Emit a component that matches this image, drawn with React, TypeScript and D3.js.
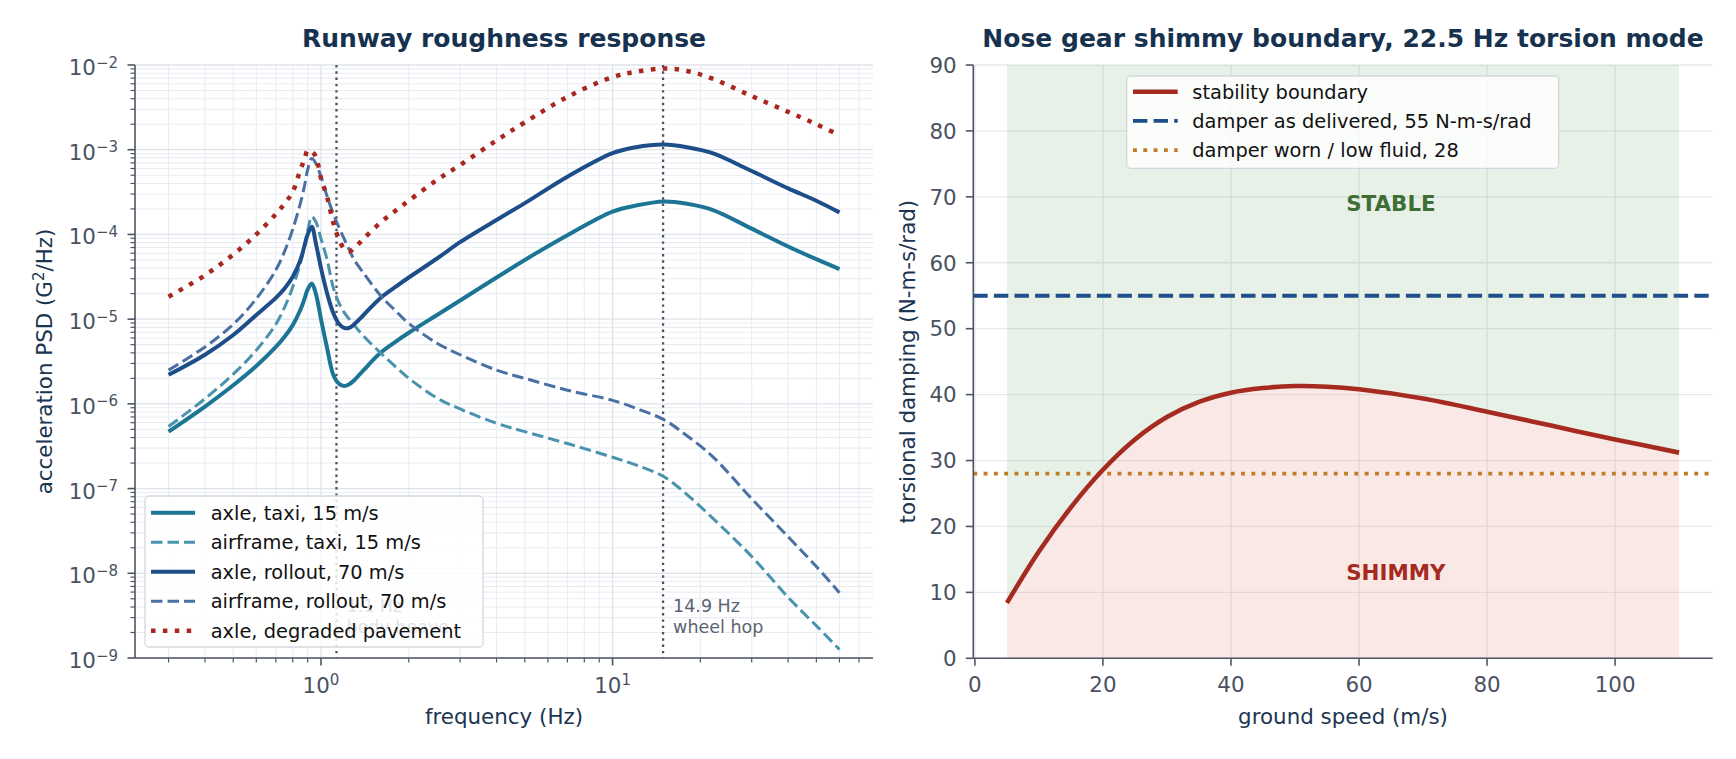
import React, { useEffect } from "react";
import * as d3 from "d3";

// ---- left panel: runway roughness PSD ----
const freqHz = [
  0.3, 0.4, 0.5, 0.6, 0.7, 0.75, 0.8, 0.85, 0.88, 0.9, 0.93, 0.96, 1.0, 1.05, 1.1, 1.15, 1.2, 1.25,
  1.3, 1.4, 1.6, 1.8, 2, 2.5, 3, 4, 5, 7, 10, 12, 15, 18, 22, 30, 40, 50, 60,
];
const axleTaxi = [
  4.7e-7, 9.3e-7, 1.66e-6, 2.8e-6, 4.7e-6, 6.2e-6, 8.5e-6, 1.29e-5, 1.78e-5, 2.24e-5, 2.63e-5,
  2.0e-5, 1.0e-5, 4.5e-6, 2.24e-6, 1.74e-6, 1.62e-6, 1.7e-6, 1.9e-6, 2.5e-6, 4.0e-6, 5.4e-6,
  6.9e-6, 1.12e-5, 1.66e-5, 3.1e-5, 5.0e-5, 9.8e-5, 1.86e-4, 2.19e-4, 2.45e-4, 2.3e-4, 1.95e-4,
  1.17e-4, 7.2e-5, 5.1e-5, 3.9e-5,
];
const airframeTaxi = [
  5.4e-7, 1.15e-6, 2.24e-6, 4.3e-6, 8.7e-6, 1.38e-5, 2.4e-5, 4.6e-5, 7.6e-5, 1.1e-4, 1.62e-4,
  1.41e-4, 8.9e-5, 5.0e-5, 2.4e-5, 1.58e-5, 1.2e-5, 1.0e-5, 8.5e-6, 6.3e-6, 4.0e-6, 2.75e-6,
  2.0e-6, 1.17e-6, 8.7e-7, 5.9e-7, 4.7e-7, 3.4e-7, 2.34e-7, 1.9e-7, 1.38e-7, 8.5e-8, 4.5e-8,
  1.58e-8, 5.2e-9, 2.4e-9, 1.26e-9,
];
const axleRollout = [
  2.2e-6, 3.8e-6, 6.5e-6, 1.12e-5, 1.78e-5, 2.3e-5, 3.16e-5, 5.0e-5, 7.6e-5, 1.0e-4, 1.23e-4,
  7.9e-5, 4.0e-5, 2.0e-5, 1.2e-5, 8.9e-6, 7.9e-6, 7.9e-6, 8.7e-6, 1.12e-5, 1.78e-5, 2.4e-5,
  3.1e-5, 5.2e-5, 8.1e-5, 1.48e-4, 2.34e-4, 4.8e-4, 9.1e-4, 1.07e-3, 1.15e-3, 1.07e-3, 9.1e-4,
  5.6e-4, 3.5e-4, 2.5e-4, 1.82e-4,
];
const airframeRollout = [
  2.5e-6, 4.7e-6, 8.7e-6, 1.74e-5, 3.8e-5, 6.3e-5, 1.15e-4, 2.34e-4, 3.9e-4, 5.8e-4, 7.9e-4,
  6.9e-4, 4.8e-4, 2.8e-4, 1.78e-4, 1.23e-4, 8.9e-5, 6.6e-5, 5.0e-5, 3.5e-5, 1.9e-5, 1.26e-5,
  8.9e-6, 5.2e-6, 3.8e-6, 2.5e-6, 2.0e-6, 1.45e-6, 1.1e-6, 8.9e-7, 6.5e-7, 4.2e-7, 2.4e-7,
  7.6e-8, 2.7e-8, 1.2e-8, 5.9e-9,
];
const axleDegraded = [
  1.84e-5, 3.3e-5, 5.8e-5, 1.0e-4, 1.74e-4, 2.3e-4, 3.2e-4, 5.8e-4, 7.9e-4, 9.8e-4, 9.5e-4,
  8.3e-4, 4.6e-4, 2.75e-4, 1.41e-4, 8.9e-5, 6.8e-5, 6.3e-5, 6.9e-5, 8.9e-5, 1.38e-4, 1.9e-4,
  2.5e-4, 4.4e-4, 6.6e-4, 1.29e-3, 2.1e-3, 4.2e-3, 7.2e-3, 8.3e-3, 9.1e-3, 8.5e-3, 6.9e-3,
  4.3e-3, 2.8e-3, 2.0e-3, 1.48e-3,
];
const bodyModeHz = 1.13;
const wheelHopHz = 14.9;
const psdExponents = [-9, -8, -7, -6, -5, -4, -3, -2];

// ---- right panel: shimmy boundary ----
const groundSpeed = [5, 10, 15, 20, 25, 30, 35, 40, 45, 50, 55, 60, 70, 80, 90, 100, 110];
const boundaryDamping = [
  8.4, 16.2, 22.9, 28.6, 33.2, 36.6, 38.9, 40.3, 41.0, 41.3, 41.2, 40.8, 39.4, 37.4, 35.3, 33.2,
  31.2,
];
const damperDelivered = 55;
const damperWorn = 28;
const dampingTicks = [0, 10, 20, 30, 40, 50, 60, 70, 80, 90];
const speedTicks = [0, 20, 40, 60, 80, 100];

const FONT = "DejaVu Sans";
const TICK = "#4a5261";
const SPINE = "#4f5663";
const TITLE = "#16324f";
const LABEL = "#1b3551";
const GRID_MAJOR = "#dfe4ea";
const GRID_MINOR = "#e9edf2";

const psdSeries = [
  { label: "axle, taxi, 15 m/s", values: axleTaxi, color: "#1c7594", width: 4, dash: "none" },
  { label: "airframe, taxi, 15 m/s", values: airframeTaxi, color: "#4a93ae", width: 3, dash: "11.5,5" },
  { label: "axle, rollout, 70 m/s", values: axleRollout, color: "#1d4e89", width: 4, dash: "none" },
  { label: "airframe, rollout, 70 m/s", values: airframeRollout, color: "#4a70a3", width: 3, dash: "11.5,5" },
  { label: "axle, degraded pavement", values: axleDegraded, color: "#a9271e", width: 4.5, dash: "4.5,7.4" },
];

const Sup: React.FC<{ base: string; exp: string; dy: number }> = ({ base, exp, dy }) => (
  <>
    <tspan>{base}</tspan>
    <tspan fontSize={15} dy={dy}>
      {exp}
    </tspan>
  </>
);

const LeftPanel: React.FC = () => {
  const x0 = 135, x1 = 873, y0 = 65, y1 = 658;
  const lo = Math.log10(d3.min(freqHz)!);
  const hi = Math.log10(d3.max(freqHz)!);
  const pad = 0.05 * (hi - lo);
  const x = d3.scaleLog().domain([10 ** (lo - pad), 10 ** (hi + pad)]).range([x0, x1]);
  const y = d3.scaleLog().domain([1e-9, 1e-2]).range([y1, y0]);
  const [dLo, dHi] = x.domain();

  const xMajor: number[] = [];
  const xMinor: number[] = [];
  for (let e = -1; e <= 1; e++) {
    for (let k = 1; k <= 9; k++) {
      const v = k * 10 ** e;
      if (v < dLo || v > dHi) continue;
      (k === 1 ? xMajor : xMinor).push(v);
    }
  }
  const yMinor: number[] = [];
  for (let e = -9; e < -2; e++) for (let k = 2; k <= 9; k++) yMinor.push(k * 10 ** e);

  const line = d3
    .line<number>()
    .x((_, i) => x(freqHz[i]))
    .y((d) => y(d))
    .curve(d3.curveCatmullRom.alpha(0.5));

  const modeLines = [
    { f: bodyModeHz, lines: ["1.1 Hz", "body heave"] },
    { f: wheelHopHz, lines: ["14.9 Hz", "wheel hop"] },
  ];

  const legX = 145, legY = 496, legW = 338, legH = 151, rowH = 29.5;

  return (
    <g>
      {/* grid */}
      {yMinor.map((v) => (
        <line key={`ym${v}`} x1={x0} x2={x1} y1={y(v)} y2={y(v)} stroke={GRID_MINOR} strokeWidth={1.1} />
      ))}
      {xMinor.map((v) => (
        <line key={`xm${v}`} x1={x(v)} x2={x(v)} y1={y0} y2={y1} stroke={GRID_MINOR} strokeWidth={1.1} />
      ))}
      {psdExponents.map((e) => (
        <line key={`yg${e}`} x1={x0} x2={x1} y1={y(10 ** e)} y2={y(10 ** e)} stroke={GRID_MAJOR} strokeWidth={1.3} />
      ))}
      {xMajor.map((v) => (
        <line key={`xg${v}`} x1={x(v)} x2={x(v)} y1={y0} y2={y1} stroke={GRID_MAJOR} strokeWidth={1.3} />
      ))}

      {/* mode markers */}
      {modeLines.map((m) => (
        <g key={m.f}>
          <line
            x1={x(m.f)}
            x2={x(m.f)}
            y1={y0}
            y2={y1}
            stroke="#4b5260"
            strokeWidth={2.3}
            strokeDasharray="2.4,3.9"
          />
          {m.lines.map((t, i) => (
            <text key={t} x={x(m.f) + 10} y={y(2e-9) + 1 - (1 - i) * 21} fontSize={17.5} fill="#5b6472">
              {t}
            </text>
          ))}
        </g>
      ))}

      {/* curves */}
      {psdSeries.map((s) => (
        <path
          key={s.label}
          d={line(s.values)!}
          fill="none"
          stroke={s.color}
          strokeWidth={s.width}
          strokeDasharray={s.dash}
          strokeLinejoin="round"
        />
      ))}

      {/* axes */}
      <line x1={x0} x2={x0} y1={y0} y2={y1} stroke={SPINE} strokeWidth={1.6} />
      <line x1={x0} x2={x1} y1={y1} y2={y1} stroke={SPINE} strokeWidth={1.6} />
      {psdExponents.map((e) => (
        <g key={`yt${e}`}>
          <line x1={x0 - 7.5} x2={x0} y1={y(10 ** e)} y2={y(10 ** e)} stroke={SPINE} strokeWidth={1.6} />
          <text x={x0 - 17} y={y(10 ** e) + 10} fontSize={21.4} fill={TICK} textAnchor="end">
            <Sup base="10" exp={`\u2212${-e}`} dy={-7.5} />
          </text>
        </g>
      ))}
      {yMinor.map((v) => (
        <line key={`ytm${v}`} x1={x0 - 4.5} x2={x0} y1={y(v)} y2={y(v)} stroke={SPINE} strokeWidth={1.2} />
      ))}
      {xMajor.map((v) => (
        <g key={`xt${v}`}>
          <line x1={x(v)} x2={x(v)} y1={y1} y2={y1 + 7.5} stroke={SPINE} strokeWidth={1.6} />
          <text x={x(v)} y={693} fontSize={21.4} fill={TICK} textAnchor="middle">
            <Sup base="10" exp={`${Math.round(Math.log10(v))}`} dy={-8} />
          </text>
        </g>
      ))}
      {xMinor.map((v) => (
        <line key={`xtm${v}`} x1={x(v)} x2={x(v)} y1={y1} y2={y1 + 4.5} stroke={SPINE} strokeWidth={1.2} />
      ))}

      {/* labels */}
      <text x={(x0 + x1) / 2} y={46.5} fontSize={25} fontWeight="bold" fill={TITLE} textAnchor="middle">
        Runway roughness response
      </text>
      <text x={(x0 + x1) / 2} y={724} fontSize={21.4} fill={LABEL} textAnchor="middle">
        frequency (Hz)
      </text>
      <text
        transform={`translate(52,${(y0 + y1) / 2}) rotate(-90)`}
        fontSize={21.4}
        fill={LABEL}
        textAnchor="middle"
      >
        acceleration PSD (G
        <tspan fontSize={15} dy={-8}>
          2
        </tspan>
        <tspan dy={8}>/Hz)</tspan>
      </text>

      {/* legend */}
      <rect
        x={legX}
        y={legY}
        width={legW}
        height={legH}
        rx={4}
        fill="white"
        fillOpacity={0.82}
        stroke="#d3d8de"
        strokeWidth={1.3}
      />
      {psdSeries.map((s, i) => {
        const cy = legY + 16.7 + i * rowH;
        return (
          <g key={`lg${s.label}`}>
            <line
              x1={151}
              x2={195}
              y1={cy}
              y2={cy}
              stroke={s.color}
              strokeWidth={s.width}
              strokeDasharray={s.dash}
            />
            <text x={210.7} y={cy + 7} fontSize={19.4} fill="#111">
              {s.label}
            </text>
          </g>
        );
      })}
    </g>
  );
};

const RightPanel: React.FC = () => {
  const x0 = 973.3, x1 = 1712.7, y0 = 65, y1 = 658.3;
  const vLo = d3.min(groundSpeed)!;
  const vHi = d3.max(groundSpeed)!;
  const padV = 0.05 * (vHi - vLo);
  const x = d3.scaleLinear().domain([vLo - padV, vHi + padV]).range([x0, x1]);
  const y = d3.scaleLinear().domain([0, 90]).range([y1, y0]);

  const curve = d3.curveCatmullRom.alpha(0.5);
  const line = d3.line<number>().x((_, i) => x(groundSpeed[i])).y((d) => y(d)).curve(curve);
  const stableArea = d3
    .area<number>()
    .x((_, i) => x(groundSpeed[i]))
    .y0(y(90))
    .y1((d) => y(d))
    .curve(curve);
  const shimmyArea = d3
    .area<number>()
    .x((_, i) => x(groundSpeed[i]))
    .y0(y(0))
    .y1((d) => y(d))
    .curve(curve);

  const legend = [
    { label: "stability boundary", color: "#a52a20", width: 4.6, dash: "none" },
    { label: "damper as delivered, 55 N-m-s/rad", color: "#1e4f8a", width: 3.8, dash: "14.4,6.2" },
    { label: "damper worn / low fluid, 28", color: "#c17d24", width: 3.8, dash: "3.9,6.4" },
  ];

  return (
    <g>
      {dampingTicks.map((t) => (
        <line key={`g${t}`} x1={x0} x2={x1} y1={y(t)} y2={y(t)} stroke="#e6eaee" strokeWidth={1.3} />
      ))}
      {speedTicks.map((t) => (
        <line key={`gv${t}`} x1={x(t)} x2={x(t)} y1={y0} y2={y1} stroke="#e6eaee" strokeWidth={1.3} />
      ))}

      <path d={stableArea(boundaryDamping)!} fill="#3d8b3d" fillOpacity={0.12} />
      <path d={shimmyArea(boundaryDamping)!} fill="#d9443a" fillOpacity={0.12} />

      <line
        x1={x0}
        x2={x1}
        y1={y(damperDelivered)}
        y2={y(damperDelivered)}
        stroke={legend[1].color}
        strokeWidth={legend[1].width}
        strokeDasharray={legend[1].dash}
      />
      <line
        x1={x0}
        x2={x1}
        y1={y(damperWorn)}
        y2={y(damperWorn)}
        stroke={legend[2].color}
        strokeWidth={legend[2].width}
        strokeDasharray={legend[2].dash}
      />
      <path d={line(boundaryDamping)!} fill="none" stroke={legend[0].color} strokeWidth={legend[0].width} />

      <text x={x(58)} y={y(69)} dy={7.8} fontSize={21.4} fontWeight="bold" fill="#3f6e35">
        STABLE
      </text>
      <text x={x(58)} y={y(13)} dy={7.8} fontSize={21.4} fontWeight="bold" fill="#a52a20">
        SHIMMY
      </text>

      {/* axes */}
      <line x1={x0} x2={x0} y1={y0} y2={y1} stroke={SPINE} strokeWidth={1.6} />
      <line x1={x0} x2={x1} y1={y1} y2={y1} stroke={SPINE} strokeWidth={1.6} />
      {dampingTicks.map((t) => (
        <g key={`yt${t}`}>
          <line x1={x0 - 7.5} x2={x0} y1={y(t)} y2={y(t)} stroke={SPINE} strokeWidth={1.6} />
          <text x={956.7} y={y(t) + 7.8} fontSize={21.4} fill={TICK} textAnchor="end">
            {t}
          </text>
        </g>
      ))}
      {speedTicks.map((t) => (
        <g key={`xt${t}`}>
          <line x1={x(t)} x2={x(t)} y1={y1} y2={y1 + 7.5} stroke={SPINE} strokeWidth={1.6} />
          <text x={x(t)} y={691.7} fontSize={21.4} fill={TICK} textAnchor="middle">
            {t}
          </text>
        </g>
      ))}

      <text x={(x0 + x1) / 2} y={46.5} fontSize={25} fontWeight="bold" fill={TITLE} textAnchor="middle">
        Nose gear shimmy boundary, 22.5 Hz torsion mode
      </text>
      <text x={(x0 + x1) / 2} y={724} fontSize={21.4} fill={LABEL} textAnchor="middle">
        ground speed (m/s)
      </text>
      <text
        transform={`translate(915,${(y0 + y1) / 2}) rotate(-90)`}
        fontSize={21.4}
        fill={LABEL}
        textAnchor="middle"
      >
        torsional damping (N-m-s/rad)
      </text>

      <rect
        x={1126.7}
        y={76}
        width={432}
        height={92.3}
        rx={4}
        fill="white"
        fillOpacity={0.82}
        stroke="#d3d8de"
        strokeWidth={1.3}
      />
      {legend.map((l, i) => {
        const cy = 91.7 + i * 29.2;
        return (
          <g key={l.label}>
            <line x1={1133} x2={1177.7} y1={cy} y2={cy} stroke={l.color} strokeWidth={l.width} strokeDasharray={l.dash} />
            <text x={1192.3} y={cy + 7} fontSize={19.4} fill="#111">
              {l.label}
            </text>
          </g>
        );
      })}
    </g>
  );
};

const App: React.FC = () => {
  useEffect(() => {
    document.body.style.margin = "0";
  }, []);
  return (
    <svg width={1736} height={759} style={{ display: "block", background: "white", fontFamily: FONT }}>
      <LeftPanel />
      <RightPanel />
    </svg>
  );
};

export default App;
